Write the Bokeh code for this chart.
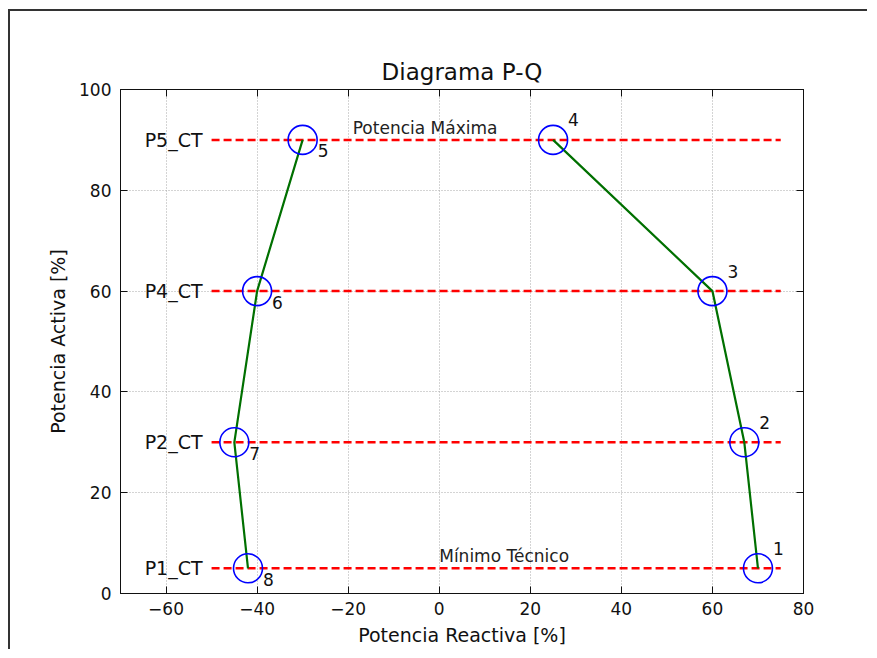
from bokeh.plotting import figure
from bokeh.models import Range1d, LinearAxis, FixedTicker, ColumnDataSource
from bokeh.core.properties import value
from bokeh.embed import file_html
from bokeh.resources import INLINE

# ---- data ----
q_pts = [70, 67, 60, 25, -30, -40, -45, -42]
p_pts = [5, 30, 60, 90, 90, 60, 30, 5]
pt_labels = ["1", "2", "3", "4", "5", "6", "7", "8"]

level_p = [5, 30, 60, 90]
level_names = ["P1_CT", "P2_CT", "P4_CT", "P5_CT"]
level_q_start = [-50, -50, -50, -50]
level_q_end = [75, 75, 75, 75]

note_texts = ["Potencia Máxima", "Mínimo Técnico"]
note_q = [-19, 0]
note_p = [91, 6]

x_ticks = [-60, -40, -20, 0, 20, 40, 60, 80]
y_ticks = [0, 20, 40, 60, 80, 100]

FONT = "DejaVu Sans"

p = figure(width=859, height=640, output_backend="svg", toolbar_location=None,
           x_range=Range1d(-70, 80), y_range=Range1d(0, 100),
           min_border_left=110, min_border_right=66, min_border_top=78,
           min_border_bottom=58, title="Diagrama P-Q")
p.styles = {"border-top": "2px solid #333", "border-left": "2px solid #333",
            "margin-top": "9px", "margin-left": "8px"}

p.title.align = "center"
p.title.text_font = FONT
p.title.text_font_size = "23px"
p.title.text_font_style = "normal"
p.title.text_color = "#111111"
p.title.standoff = 9

def style_axis(ax, labels=True):
    ax.major_tick_in = 7
    ax.major_tick_out = 0
    ax.minor_tick_in = 0
    ax.minor_tick_out = 0
    ax.axis_line_color = "#111111"
    ax.major_tick_line_color = "#111111"
    ax.major_label_text_font = FONT
    ax.major_label_text_font_size = "17px"
    ax.major_label_text_color = "#111111" if labels else None
    ax.axis_label_text_font = FONT
    ax.axis_label_text_font_size = "19px"
    ax.axis_label_text_font_style = "normal"
    ax.axis_label_text_color = "#111111"

xt = FixedTicker(ticks=x_ticks)
yt = FixedTicker(ticks=y_ticks)
p.xaxis.ticker = xt
p.yaxis.ticker = yt
p.xaxis.major_label_overrides = {t: str(t).replace("-", "\u2212") for t in x_ticks}
p.xaxis.axis_label = "Potencia Reactiva [%]"
p.yaxis.axis_label = "Potencia Activa [%]"
p.xaxis.major_label_standoff = 8
p.yaxis.major_label_standoff = 9
p.xaxis.axis_label_standoff = 6
p.yaxis.axis_label_standoff = 7
style_axis(p.xaxis[0])
style_axis(p.yaxis[0])

top_ax = LinearAxis(ticker=FixedTicker(ticks=x_ticks))
right_ax = LinearAxis(ticker=FixedTicker(ticks=y_ticks))
for ax in (top_ax, right_ax):
    style_axis(ax, labels=False)
    ax.major_label_text_font_size = "0px"
    ax.major_label_standoff = 0
p.add_layout(top_ax, "above")
p.add_layout(right_ax, "right")

p.outline_line_color = "#111111"
for g in (p.xgrid[0], p.ygrid[0]):
    g.grid_line_color = "#a8a8a8"
    g.grid_line_dash = "1 2"
    g.grid_line_width = 1
p.xgrid.ticker = xt
p.ygrid.ticker = yt

# red dashed levels
lev = ColumnDataSource(dict(x0=level_q_start, x1=level_q_end, y=level_p, name=level_names))
p.segment(x0="x0", y0="y", x1="x1", y1="y", source=lev, line_color="#ff0000",
          line_width=2.5, line_dash="8 4")
p.text(x="x0", y="y", text="name", source=lev, x_offset=-9, text_align="right",
       text_baseline="middle", text_font=value(FONT), text_font_size="19px",
       text_color="#111111")

# green capability curve (two branches)
p.line(q_pts[:4], p_pts[:4], line_color="#007000", line_width=2.2)
p.line(q_pts[4:], p_pts[4:], line_color="#007000", line_width=2.2)

# blue circle markers
pts = ColumnDataSource(dict(x=q_pts, y=p_pts, lab=pt_labels,
                            dx=[15] * 8, dy=[-20, -20, -20, -20, 11, 11, 11, 11]))
p.scatter(x="x", y="y", source=pts, size=29, fill_color=None, line_color="#0000ff",
          line_width=1.6)
p.text(x="x", y="y", text="lab", source=pts, x_offset="dx", y_offset="dy",
       text_align="left", text_baseline="alphabetic", text_font=value(FONT),
       text_font_size="17px", text_color="#111111")

# notes
notes = ColumnDataSource(dict(x=note_q, y=note_p, t=note_texts))
p.text(x="x", y="y", text="t", source=notes, text_align="left", y_offset=-7,
       text_baseline="alphabetic", text_font=value(FONT), text_font_size="17px",
       text_color="#222222")

open("out.html", "w").write(file_html(p, INLINE))
